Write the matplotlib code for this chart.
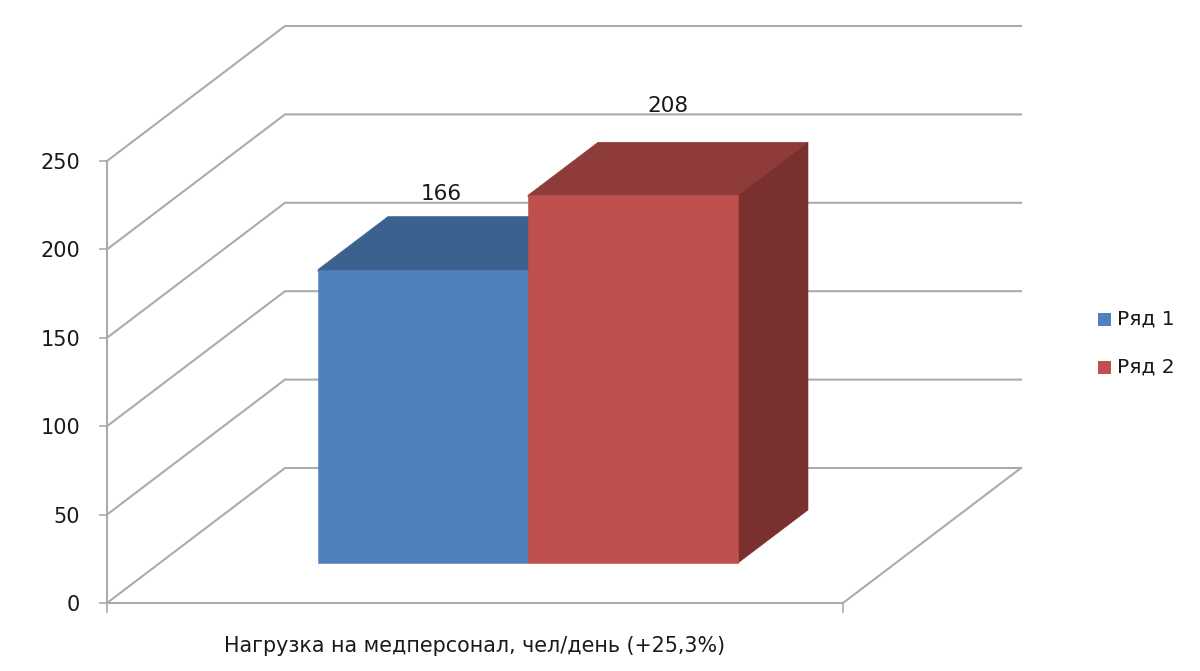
import matplotlib
matplotlib.use("Agg")
import matplotlib.pyplot as plt
from matplotlib.patches import Polygon, Rectangle

series_names = ["Ряд 1", "Ряд 2"]
series_values = [166, 208]
category_label = "Нагрузка на медперсонал, чел/день (+25,3%)"
y_ticks = [0, 50, 100, 150, 200, 250]

face_colors = ["#4F81BD", "#C0504D"]
top_colors = ["#3B618F", "#8F3B39"]
side_colors = ["#2F4D72", "#7A302E"]
grid_color = "#ABABAB"
text_color = "#1A1A1A"

W, H = 1200, 671
PX_PER_UNIT = (603 - 161) / 250
fig = plt.figure(figsize=(W / 100, H / 100), dpi=100)
ax = fig.add_axes([0, 0, 1, 1])
ax.set_xlim(0, W)
ax.set_ylim(-(H - 603) / PX_PER_UNIT, 603 / PX_PER_UNIT)
ax.axis("off")
plt.rcParams["font.family"] = ["DejaVu Sans"]

def u(px):
    return px / PX_PER_UNIT

x0, x1 = 107, 843
dx, dy = 178, u(135)
for t in y_ticks:
    ax.plot([x0, x0 + dx, x1 + dx], [t, t + dy, t + dy], color=grid_color, lw=1.5, zorder=1,
            solid_joinstyle="miter")
    ax.plot([x0 - 7, x0], [t, t], color=grid_color, lw=1.2, zorder=1)
    ax.text(x0 - 27, t - u(2), str(t), ha="right", va="center", fontsize=15, color=text_color)
ax.plot([x0, x0], [0, y_ticks[-1]], color=grid_color, lw=1.5, zorder=1)
ax.plot([x0, x1, x1 + dx], [0, 0, dy], color=grid_color, lw=1.5, zorder=1)
ax.plot([x0, x0], [0, u(-9)], color=grid_color, lw=1.2, zorder=1)
ax.plot([x1, x1], [0, u(-9)], color=grid_color, lw=1.2, zorder=1)

bar_left, bar_w = 318, 210
base = u(40)
bdx, bdy = 70, u(53)
label_dx = [18, 35]
label_gap = [23, 36]
for i, v in enumerate(series_values):
    l = bar_left + i * bar_w
    r = l + bar_w
    top = base + v
    ax.add_patch(Polygon([(l, top - u(2)), (l, top), (l + bdx, top + bdy), (r + bdx, top + bdy),
                          (r, top), (r, top - u(2))],
                         fc=top_colors[i], ec=top_colors[i], lw=0.4, zorder=2 + i))
    ax.add_patch(Polygon([(r, base), (r + bdx, base + bdy), (r + bdx, top + bdy), (r, top)],
                         fc=side_colors[i], ec=side_colors[i], lw=0.4, zorder=2 + i))
    ax.add_patch(Rectangle((l, base), bar_w, v, fc=face_colors[i], ec=face_colors[i], lw=0.4,
                           zorder=2 + i))
    ax.text(l + bar_w / 2 + label_dx[i], top + bdy + u(label_gap[i]), str(v), ha="center",
            va="center", fontsize=15.5, color=text_color, zorder=6)

ax.text(475, u(-43), category_label, ha="center", va="center", fontsize=14.9, color=text_color)

for i, name in enumerate(series_names):
    y = u(603 - 319 - i * 48)
    ax.add_patch(Rectangle((1098, y - u(6.5)), 13, u(13), fc=face_colors[i], ec="none"))
    ax.text(1117, y, name, ha="left", va="center", fontsize=14.5, color=text_color)

fig.savefig("out.png", dpi=100)
